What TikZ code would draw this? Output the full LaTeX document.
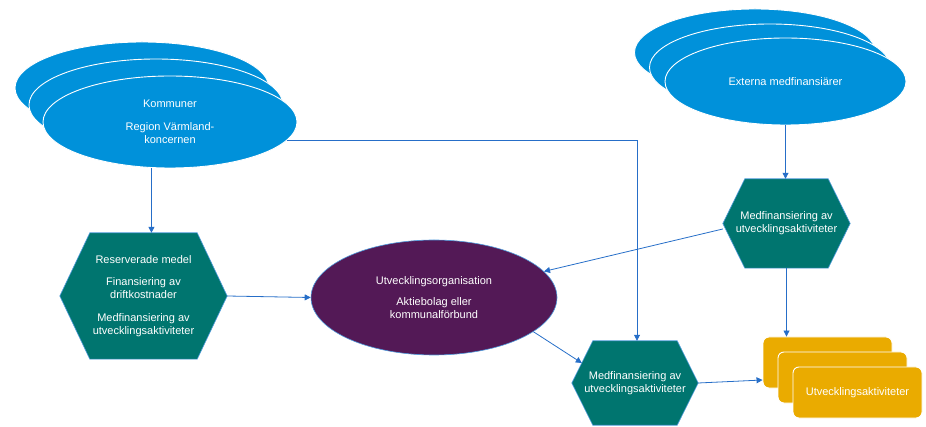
\documentclass[tikz,border=0pt]{standalone}
\usepackage{fontspec}
\setmainfont{Liberation Sans}
\usetikzlibrary{arrows.meta,shapes.geometric,backgrounds,calc}
\definecolor{ellblue}{RGB}{0,145,218}
\definecolor{hexteal}{RGB}{0,117,111}
\definecolor{orgpurple}{RGB}{83,25,86}
\definecolor{actyellow}{RGB}{234,171,0}
\definecolor{arrblue}{RGB}{38,110,200}
\definecolor{hexedge}{RGB}{80,155,220}
\tikzset{
  txt/.style={font=\fontsize{11}{13}\selectfont, text=white, align=center},
  stackell/.style={ellipse, fill=ellblue, draw=white, line width=0.9pt, inner sep=0pt, txt},
  hexbox/.style={rectangle, draw=none, inner sep=0pt, txt},
  hexfill/.style={fill=hexteal, draw=hexedge, line width=0.6pt},
  orgell/.style={ellipse, fill=orgpurple, draw=hexedge, line width=0.6pt, inner sep=0pt, txt},
  actbox/.style={rectangle, rounded corners=6pt, fill=actyellow, draw=white, line width=0.9pt, minimum width=129pt, minimum height=51pt, inner sep=0pt, txt},
  conn/.style={draw=arrblue, line width=0.8pt, -{Triangle[length=6pt,width=6pt]}}
}
\newcommand\hexof[2]{\begin{scope}[on background layer]\path[hexfill] (#1.west) -- ([xshift=#2]#1.north west) -- ([xshift=-#2]#1.north east) -- (#1.east) -- ([xshift=-#2]#1.south east) -- ([xshift=#2]#1.south west) -- cycle;\end{scope}}
\begin{document}
\begin{tikzpicture}[x=1pt,y=-1pt]
\useasboundingbox (0,0) rectangle (926,427);
% left stack
\node[stackell, minimum width=254pt, minimum height=92pt] (L1) at (142,88) {};
\node[stackell, minimum width=254pt, minimum height=92pt] (L2) at (156,105) {};
\node[stackell, minimum width=254pt, minimum height=92pt] (L3) at (170,122) {Kommuner\\[9.5pt]Region Värmland-\\koncernen};
% right stack
\node[stackell, minimum width=241pt, minimum height=87pt] (R1) at (755,52.5) {};
\node[stackell, minimum width=241pt, minimum height=87pt] (R2) at (770,67.5) {};
\node[stackell, minimum width=241pt, minimum height=87pt] (R3) at (785.5,81.5) {Externa medfinansiärer};
% hexagons
\node[hexbox, minimum width=167pt, minimum height=126pt] (HL) at (143.5,296) {Reserverade medel\\[9.5pt]Finansiering av\\driftkostnader\\[9.5pt]Medfinansiering av\\utvecklingsaktiviteter};
\hexof{HL}{30pt}
\node[hexbox, minimum width=127pt, minimum height=89pt] (HR) at (786.5,223.5) {Medfinansiering av\\utvecklingsaktiviteter};
\hexof{HR}{22pt}
\node[hexbox, minimum width=126pt, minimum height=84pt] (HM) at (635,383) {Medfinansiering av\\utvecklingsaktiviteter};
\hexof{HM}{21pt}
% organisation
\node[orgell, minimum width=246pt, minimum height=115pt] (P) at (434,297.5) {Utvecklingsorganisation\\[8pt]Aktiebolag eller\\kommunalförbund};
% activities
\node[actbox] (Y1) at (827.5,362.5) {};
\node[actbox] (Y2) at (842.5,377.5) {};
\node[actbox] (Y3) at (857.5,392.5) {Utvecklingsaktiviteter};
% connectors
\draw[conn] (L3.248) -- (L3.248 |- HL.north);
\draw[conn] (L3.-9.3) -| ([xshift=2pt]HM.north);
\draw[conn] (R3.south) -- (R3.south |- HR.north);
\draw[conn] ([yshift=-5.5pt]HR.west) -- (P);
\draw[conn] (HR.south) -- (HR.south |- Y1.north);
\draw[conn] (HL.east) -- (P.west);
\draw[conn] (P.-19) -- ([xshift=10pt,yshift=20pt]HM.west);
\draw[conn] (HM.east) -- ([yshift=-17.5pt]Y1.west);
\end{tikzpicture}
\end{document}
